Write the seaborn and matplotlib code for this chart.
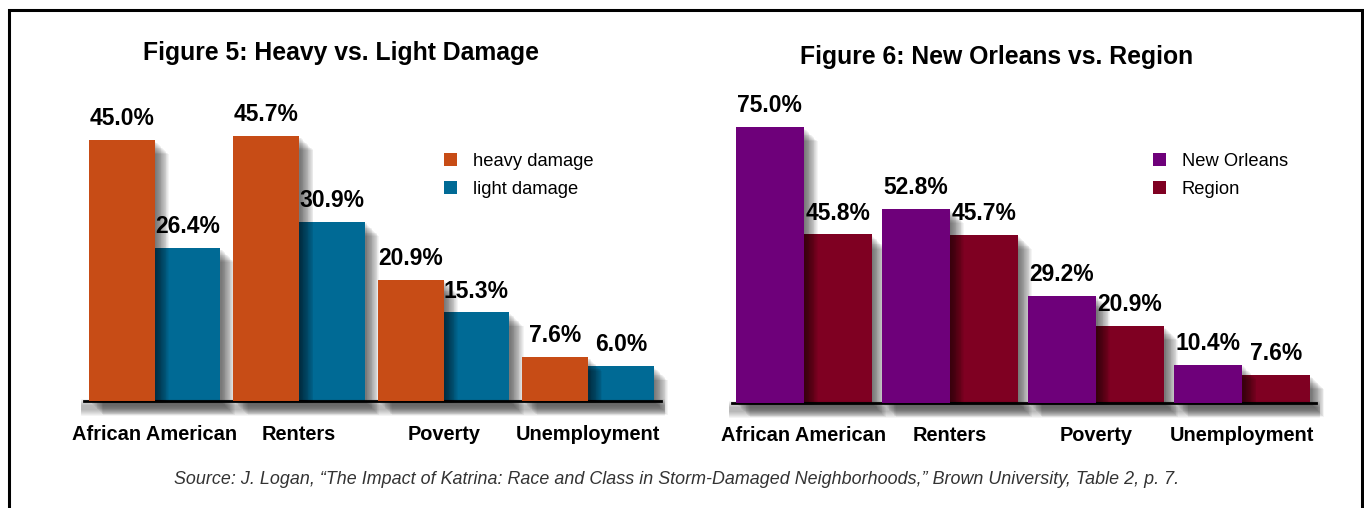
import matplotlib
matplotlib.use('Agg')
import matplotlib.pyplot as plt
import matplotlib.patheffects as pe
from matplotlib.patches import Patch
from matplotlib.lines import Line2D
import pandas as pd
import seaborn as sns

categories = ['African American', 'Renters', 'Poverty', 'Unemployment']
heavy_damage = [45.0, 45.7, 20.9, 7.6]
light_damage = [26.4, 30.9, 15.3, 6.0]
new_orleans = [75.0, 52.8, 29.2, 10.4]
region = [45.8, 45.7, 20.9, 7.6]

fig5_series = ['heavy damage', 'light damage']
fig6_series = ['New Orleans', 'Region']
fig5_colors = ['#c74c16', '#006a95']
fig6_colors = ['#6e007a', '#7f0022']

source = ('Source: J. Logan, \u201cThe Impact of Katrina: Race and Class in '
          'Storm-Damaged Neighborhoods,\u201d Brown University, Table 2, p. 7.')

sns.set_style('white')
plt.rcParams['font.family'] = ['Liberation Sans', 'DejaVu Sans']
plt.rcParams['text.color'] = 'black'
plt.rcParams['xtick.color'] = 'black'


def long_df(series_names, a, b):
    df = pd.DataFrame({'category': categories, series_names[0]: a, series_names[1]: b})
    return df.melt('category', var_name='series', value_name='pct')


def soft_shadow():
    # stack of faint offset copies to fake a blurred drop shadow
    effects = [pe.SimplePatchShadow(offset=(k * 0.6, -k * 0.6), shadow_rgbFace='black', alpha=0.045)
               for k in range(2, 18)]
    return effects + [pe.Normal()]


def line_shadow():
    effects = [pe.SimpleLineShadow(offset=(0, -k * 0.72), shadow_color='black', alpha=0.045, linewidth=5)
               for k in range(1, 12)]
    return effects + [pe.Normal()]


def draw_panel(fig, rect, df, names, colors, ymax, width, pad):
    ax = fig.add_axes(rect)
    sns.barplot(data=df, x='category', y='pct', hue='series', hue_order=names,
                palette=colors, width=width, saturation=1, linewidth=0,
                legend=False, ax=ax)
    for i, cont in enumerate(ax.containers):
        for p in cont.patches:
            p.set_clip_on(False)
            p.set_path_effects(soft_shadow())
            p.set_zorder(3 if i == 0 else 2)
        ax.bar_label(cont, fmt='%.1f%%', padding=7, fontsize=16.5, fontweight='bold',
                     color='black', zorder=5)
    ax.set_xlim(-0.49, 3.505)
    ax.set_ylim(0, ymax)
    ax.set_xlabel('')
    ax.set_ylabel('')
    ax.set_yticks([])
    ax.set_xticks(range(len(categories)))
    ax.set_xticklabels(categories, fontsize=14.4, fontweight='bold', color='black')
    ax.tick_params(axis='x', length=0, pad=pad)
    for s in ['top', 'left', 'right']:
        ax.spines[s].set_visible(False)
    ax.spines['bottom'].set_linewidth(2)
    ax.spines['bottom'].set_color('black')
    ax.spines['bottom'].set_path_effects(line_shadow())
    ax.patch.set_alpha(0)
    return ax


fig = plt.figure(figsize=(13.64, 5.08), dpi=100)

ax5 = draw_panel(fig, [84 / 1364, 107 / 508, 577 / 1364, 290 / 508],
                 long_df(fig5_series, heavy_damage, light_damage),
                 fig5_series, fig5_colors, 50, 0.91, 17.5)
ax6 = draw_panel(fig, [732 / 1364, 105 / 508, 584 / 1364, 294.4 / 508],
                 long_df(fig6_series, new_orleans, region),
                 fig6_series, fig6_colors, 80, 0.93, 16.5)

fig.text(341 / 1364, 1 - 53 / 508, 'Figure 5: Heavy vs. Light Damage',
         ha='center', va='center', fontsize=17.8, fontweight='bold', color='black')
fig.text(997 / 1364, 1 - 57 / 508, 'Figure 6: New Orleans vs. Region',
         ha='center', va='center', fontsize=17.8, fontweight='bold', color='black')

for ax, names, colors, x0 in [(ax5, fig5_series, fig5_colors, 444), (ax6, fig6_series, fig6_colors, 1153)]:
    handles = [Patch(facecolor=c, edgecolor='none') for c in colors]
    ax.legend(handles, names, loc='upper left', bbox_to_anchor=(x0 / 1364, 1 - 153 / 508),
              bbox_transform=fig.transFigure, frameon=False, fontsize=13.2,
              handlelength=0.72, handleheight=0.72, handletextpad=0.85,
              labelspacing=0.6, borderpad=0, borderaxespad=0)

fig.text(677 / 1364, 1 - 479 / 508, source, ha='center', va='center',
         fontsize=12.9, style='italic', color='#333333')

# frame around the whole graphic
fx0, fx1, fy1 = 9 / 1364, 1362 / 1364, 1 - 10 / 508
fig.add_artist(Line2D([fx0, fx0, fx1, fx1], [0, fy1, fy1, 0], transform=fig.transFigure,
                      color='black', linewidth=2.2, solid_joinstyle='miter'))

fig.savefig('out.png', dpi=100)
